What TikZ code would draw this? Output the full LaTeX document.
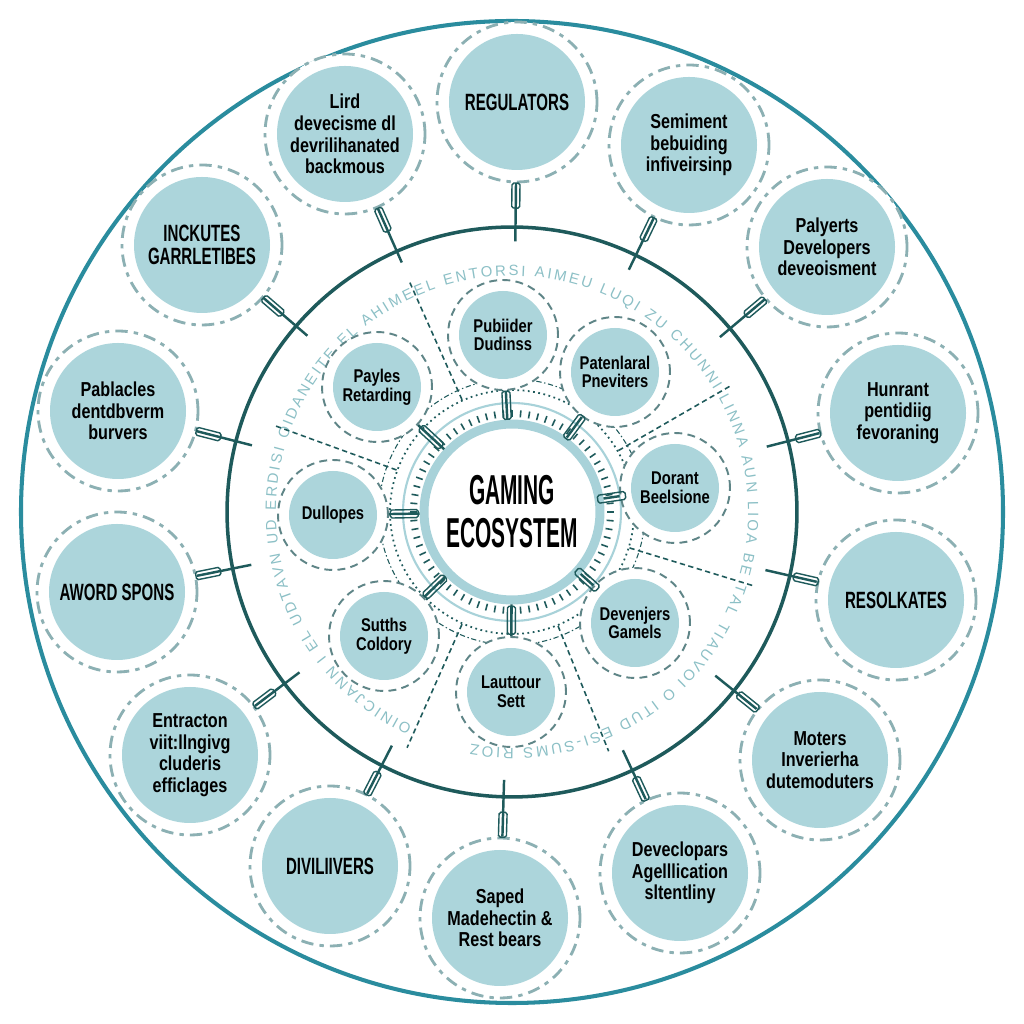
\documentclass[tikz,border=0pt]{standalone}
\usepackage{fontspec}
\setmainfont{Liberation Sans}
\newfontfamily\capfont{Liberation Sans}[FakeStretch=0.64]
\newfontfamily\txtfont{Liberation Sans}[FakeStretch=0.8]
\newfontfamily\hubfont{Liberation Sans}[FakeStretch=0.5]
\newfontfamily\ringfont{Liberation Sans}
\usetikzlibrary{calc,decorations.text}

\definecolor{bubble}{RGB}{172,213,219}
\definecolor{ringgray}{RGB}{140,176,179}
\definecolor{innergray}{RGB}{95,133,135}
\definecolor{darkteal}{RGB}{30,90,91}
\definecolor{rimteal}{RGB}{42,140,158}
\definecolor{hubblue}{RGB}{168,210,217}
\definecolor{ringtext}{RGB}{140,192,198}

\tikzset{
  outer/.style={circle, draw=ringgray, line width=1.6pt, dash pattern=on 7pt off 3.5pt on 2.5pt off 3.5pt,
    fill=white, minimum size=3.2cm, inner sep=0pt, align=center, text=black,
    path picture={\fill[bubble] (path picture bounding box.center) circle[radius=68];},
    font=\txtfont\bfseries\fontsize{11.5}{12.3}\selectfont},
  outercap/.style={outer, font=\capfont\bfseries\fontsize{13.4}{13.4}\selectfont},
  inner/.style={circle, draw=innergray, line width=1.1pt, dash pattern=on 4.5pt off 3pt,
    fill=white, minimum size=2.2cm, inner sep=0pt, align=center, text=black,
    path picture={\fill[bubble] (path picture bounding box.center) circle[radius=44];},
    font=\txtfont\bfseries\fontsize{10.5}{10.7}\selectfont},
  core/.style={circle, fill=white, draw=hubblue, line width=0.18cm, minimum size=3.52cm,
    align=center, text=black, font=\hubfont\bfseries\fontsize{23.8}{24.5}\selectfont},
  link/.style={draw=darkteal, line width=1.4pt},
  spoke/.style={draw=darkteal, line width=0.9pt, dash pattern=on 3pt off 2pt},
  plug/.style={draw=darkteal, line width=0.8pt, rectangle, rounded corners=1pt, solid,
    minimum width=0.5cm, minimum height=0.16cm, inner sep=0pt, sloped},
}

\begin{document}
\begin{tikzpicture}[x=0.02cm, y=0.02cm]
    \useasboundingbox[fill=white] (0,0) rectangle (1024,1024);
    \coordinate (C) at (512,512);

    \draw[rimteal, line width=2.3pt] (C) circle[radius=491];
    \node (loop) [circle, draw=darkteal, line width=2pt, minimum size=11.4cm] at (C) {};

    \path[decorate, decoration={text along path, text align=fit to path, text color=ringtext,
        text={|\ringfont\fontsize{8.5}{8.5}\selectfont|OINICJANN I EL UDTAVN UD ERDISI OIDANEITE EL AHIMEEL ENTORSI AIMEU LUQI ZU CHUNNI LINNA AUN LIOA BE TAL TIAUVOI O ITUD ESI-SUMS RIOZ}}]
        ($(C)+(-115:236)$) arc[start angle=-115, end angle=-460, radius=236];

    \node (dots) [circle, draw=darkteal, line width=1pt, dotted, minimum size=4.88cm] at (C) {};
    \draw[darkteal, line width=0.6pt, dash pattern=on 3pt off 1.5pt on 0.8pt off 1.5pt] (C) circle[radius=133];
    \draw[hubblue, line width=1.2pt] (C) circle[radius=109];
    \foreach \a in {0,5,...,355}
        \draw[darkteal, line width=0.9pt] ($(C)+(\a:95)$) -- ($(C)+(\a:102)$);

    \draw[spoke] (dots.114) -- ($(C)!0.88!(loop.114)$);
    \draw[spoke] (dots.160) -- ($(C)!0.88!(loop.160)$);
    \draw[spoke] (dots.-114) -- ($(C)!0.9!(loop.-114)$);
    \draw[spoke] (dots.-68) -- ($(C)!0.9!(loop.-68)$);
    \draw[spoke] (dots.-17) -- ($(C)!0.88!(loop.-17)$);
    \draw[spoke] (dots.30) -- ($(C)!0.88!(loop.30)$);

    \node (hub) [core] at (C) {GAMING\\ECOSYSTEM};

    \node (m1) [inner] at (503,689) {Pubiider\\Dudinss};
    \node (m2) [inner] at (615,652) {Patenlaral\\Pneviters};
    \node (m3) [inner] at (675,536) {Dorant\\Beelsione};
    \node (m4) [inner] at (635,401) {Devenjers\\Gamels};
    \node (m5) [inner] at (511,332) {Lauttour\\Sett};
    \node (m6) [inner] at (384,388) {Sutths\\Coldory};
    \node (m7) [inner] at (333,509) {Dullopes};
    \node (m8) [inner] at (377,637) {Payles\\Retarding};

    \node (n1) [outer] at (345,890) {Lird\\devecisme dl\\devrilihanated\\backmous};
    \node (n2) [outercap] at (517,922) {REGULATORS};
    \node (n3) [outer] at (689,879) {Semiment\\bebuiding\\infiveirsinp};
    \node (n4) [outer] at (827,777) {Palyerts\\Developers\\deveoisment};
    \node (n5) [outer] at (898,611) {Hunrant\\pentidiig\\fevoraning};
    \node (n6) [outercap] at (896,424) {RESOLKATES};
    \node (n7) [outer] at (820,264) {Moters\\Inverierha\\dutemoduters};
    \node (n8) [outer] at (680,151) {Deveclopars\\Agelllication\\sltentliny};
    \node (n9) [outer] at (500,106) {Saped\\Madehectin \&\\Rest bears};
    \node (n10) [outercap] at (330,158) {DIVILIIVERS};
    \node (n11) [outer] at (190,269) {Entracton\\viit:llngivg\\cluderis\\efficlages};
    \node (n12) [outercap] at (117,432) {AWORD SPONS};
    \node (n13) [outer] at (118,613) {Pablacles\\dentdbverm\\burvers};
    \node (n14) [outercap] at (202,779) {INCKUTES\\GARRLETIBES};

    \draw[link] (n1) -- node[plug, pos=0.21] {} ($(C)!0.66!(n1)$);
    \draw[link] (n2) -- node[plug, pos=0.21] {} ($(C)!0.66!(n2)$);
    \draw[link] (n3) -- node[plug, pos=0.21] {} ($(C)!0.66!(n3)$);
    \draw[link] (n4) -- node[plug, pos=0.21] {} ($(C)!0.66!(n4)$);
    \draw[link] (n5) -- node[plug, pos=0.21] {} ($(C)!0.66!(n5)$);
    \draw[link] (n6) -- node[plug, pos=0.21] {} ($(C)!0.66!(n6)$);
    \draw[link] (n7) -- node[plug, pos=0.21] {} ($(C)!0.66!(n7)$);
    \draw[link] (n8) -- node[plug, pos=0.21] {} ($(C)!0.66!(n8)$);
    \draw[link] (n9) -- node[plug, pos=0.21] {} ($(C)!0.66!(n9)$);
    \draw[link] (n10) -- node[plug, pos=0.21] {} ($(C)!0.66!(n10)$);
    \draw[link] (n11) -- node[plug, pos=0.21] {} ($(C)!0.66!(n11)$);
    \draw[link] (n12) -- node[plug, pos=0.21] {} ($(C)!0.66!(n12)$);
    \draw[link] (n13) -- node[plug, pos=0.21] {} ($(C)!0.66!(n13)$);
    \draw[link] (n14) -- node[plug, pos=0.21] {} ($(C)!0.66!(n14)$);

    \draw[link] (m1) -- node[plug, minimum width=0.56cm] {} (hub);
    \draw[link] (m2) -- node[plug, minimum width=0.56cm] {} (hub);
    \draw[link] (m3) -- node[plug, minimum width=0.56cm] {} (hub);
    \draw[link] (m4) -- node[plug, minimum width=0.56cm] {} (hub);
    \draw[link] (m5) -- node[plug, minimum width=0.56cm] {} (hub);
    \draw[link] (m6) -- node[plug, minimum width=0.56cm] {} (hub);
    \draw[link] (m7) -- node[plug, minimum width=0.56cm] {} (hub);
    \draw[link] (m8) -- node[plug, minimum width=0.56cm] {} (hub);
\end{tikzpicture}
\end{document}
